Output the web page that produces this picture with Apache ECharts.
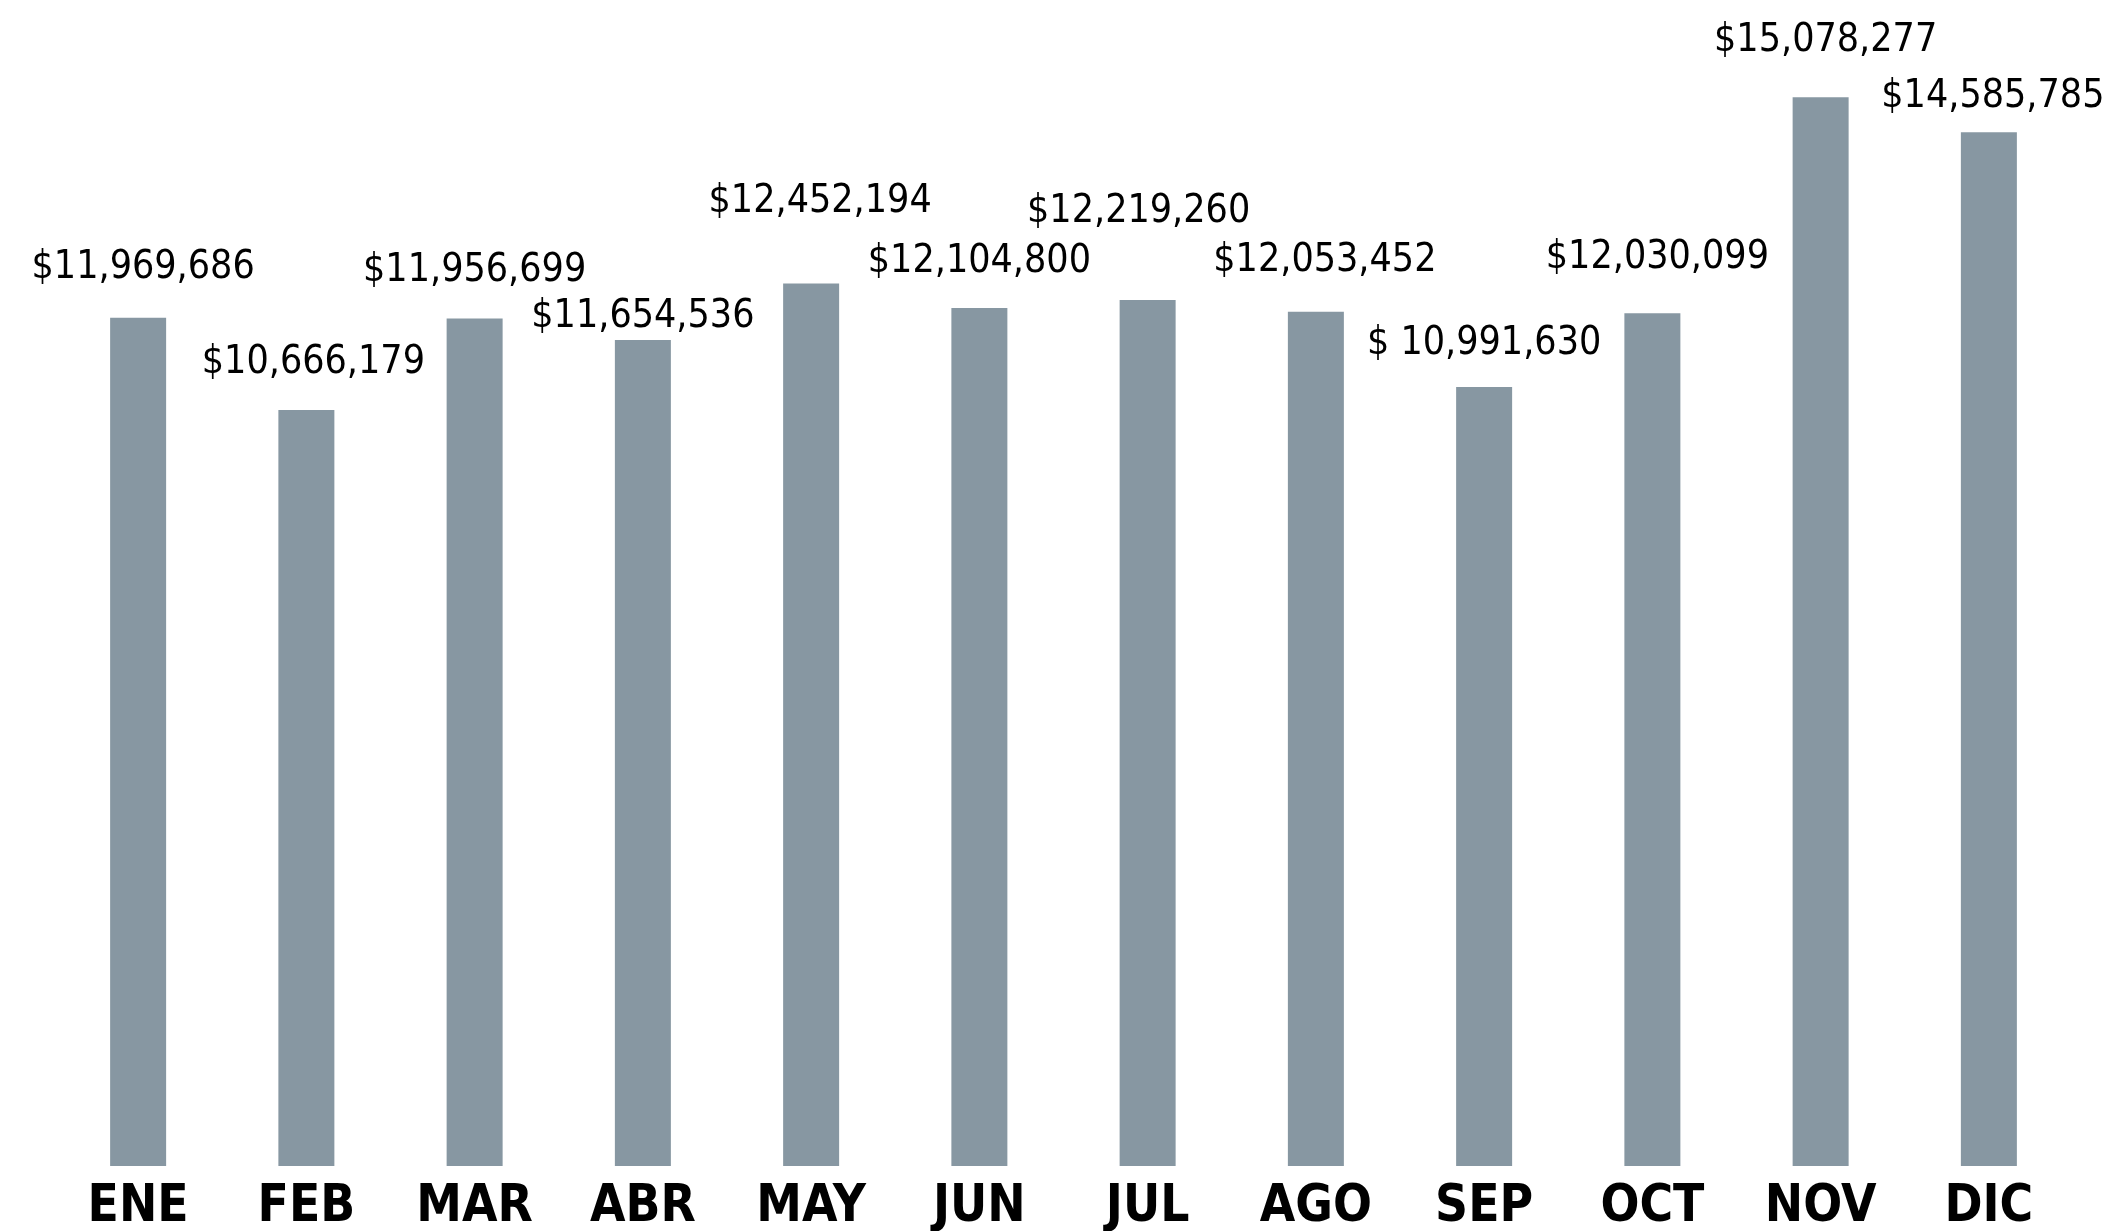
<!DOCTYPE html>
<html>
<head>
<meta charset="utf-8">
<script src="https://cdn.jsdelivr.net/npm/echarts@6/dist/echarts.min.js"></script>
<style>
  html, body { margin: 0; padding: 0; background: #fff; }
  #chart { width: 2126px; height: 1231px; }
</style>
</head>
<body>
<div id="chart"></div>
<script>
// meses y ventas
const months = ['ENE', 'FEB', 'MAR', 'ABR', 'MAY', 'JUN', 'JUL', 'AGO', 'SEP', 'OCT', 'NOV', 'DIC'];
const sales = [11969686, 10666179, 11956699, 11654536, 12452194, 12104800, 12219260, 12053452, 10991630, 12030099, 15078277, 14585785];
const salesLabels = ['$11,969,686', '$10,666,179', '$11,956,699', '$11,654,536', '$12,452,194', '$12,104,800',
  '$12,219,260', '$12,053,452', '$ 10,991,630', '$12,030,099', '$15,078,277', '$14,585,785'];

// separacion de cada etiqueta sobre su barra (px)
const labelGap = [30, 28, 28, 4, 62, 27, 69, 31, 24, 36, 37, 16];
const labelShiftX = [5, 7, 0, 0, 9, 0, -9, 9, 0, 5, 5, 4];

const barColor = '#8797a2';

document.addEventListener('DOMContentLoaded', () => {
  const chart = echarts.init(document.getElementById('chart'));

  const option = {
    backgroundColor: '#ffffff',
    animation: false,
    grid: { left: 54, right: 53, top: 32, bottom: 65, outerBoundsMode: 'none' },
    xAxis: {
      type: 'category',
      data: months,
      axisLine: { show: false },
      axisTick: { show: false },
      axisLabel: {
        color: '#000',
        fontFamily: 'DejaVu Sans Condensed',
        fontWeight: 'bold',
        fontSize: 51,
        margin: 16
      }
    },
    yAxis: {
      type: 'value',
      min: 0,
      max: 16000000,
      show: false,
      splitLine: { show: false }
    },
    series: [{
      type: 'bar',
      barWidth: 56,
      itemStyle: { color: barColor },
      data: sales.map((v, i) => ({
        value: v,
        label: {
          show: true,
          position: 'top',
          distance: labelGap[i],
          offset: [labelShiftX[i], 0],
          formatter: () => salesLabels[i],
          color: '#000',
          fontFamily: 'DejaVu Sans Condensed',
          fontSize: 39
        }
      }))
    }]
  };

  chart.setOption(option);
});
</script>
</body>
</html>
